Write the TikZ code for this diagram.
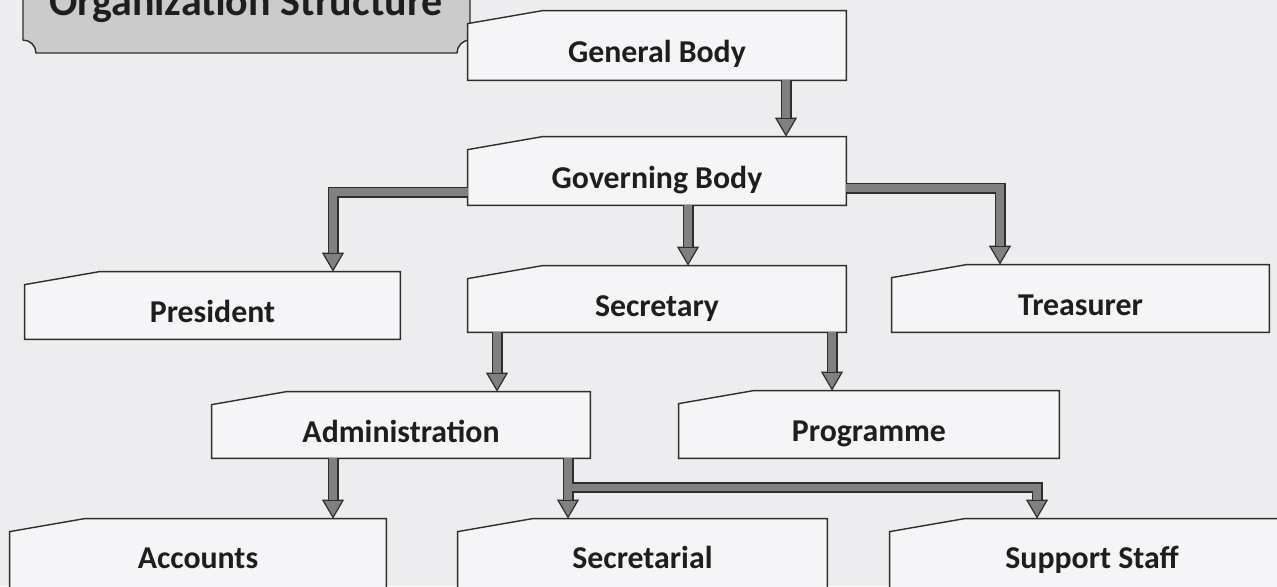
\documentclass[tikz,border=0pt]{standalone}
\usepackage{fontspec}
\setmainfont{Carlito}
\usetikzlibrary{arrows.meta,calc}
\pgfdeclarelayer{bg}
\pgfsetlayers{bg,main}
\definecolor{paper}{HTML}{EDECEE}
\definecolor{boxfill}{HTML}{F5F4F6}
\definecolor{edge}{HTML}{2E2E2E}
\definecolor{agray}{HTML}{808080}
\definecolor{tgray}{HTML}{CBCBCB}
\definecolor{txt}{HTML}{1E1E1E}
\tikzset{
  orgbox/.style={draw=none, inner sep=0pt, text=txt,
    font=\bfseries\fontsize{15.9}{18}\selectfont, text height=17pt, text depth=0pt},
  lowbox/.style={orgbox, text height=8.5pt},
  boxline/.style={draw=edge, line width=0.7pt, fill=boxfill, line join=miter},
  arrin/.style={-, draw=agray, line width=3.9pt, shorten >=9.5pt, line join=miter},
  arrout/.style={draw=edge, line width=5.5pt, line join=miter,
    -{Triangle[length=9.5pt,width=11pt,line width=0.6pt,fill=agray]}},
  arrow/.style={arrout, postaction={arrin}},
  titlebox/.style={draw=edge, line width=0.7pt, fill=tgray}
}
\newcommand\slantbox[1]{%
  \begin{pgfonlayer}{bg}
  \path[boxline] (#1.south west) -- (#1.south east) -- (#1.north east)
    -- ([xshift=37.5pt]#1.north west) -- ([yshift=-6.5pt]#1.north west) -- cycle;
  \end{pgfonlayer}}
\begin{document}
\begin{tikzpicture}[x=0.5pt,y=-0.5pt]
\useasboundingbox (0,0) rectangle (1277,586);
\begin{pgfonlayer}{bg}
\fill[paper] (0,0) rectangle (1277,586);
\path[titlebox] (23,-10) -- (23,40) .. controls (30.2,40) and (36,45.8) .. (36,53)
  -- (457,53) .. controls (457,45.8) and (462.8,40) .. (470,40) -- (470,-10);
\end{pgfonlayer}
\node[anchor=base, text=txt, font=\bfseries\fontsize{21}{24}\selectfont] (title) at (246,15) {Organization Structure};

\node[orgbox, minimum width=189pt, minimum height=34.5pt] (gb) at (657,45.5) {General Body};
\node[orgbox, minimum width=189pt, minimum height=34pt] (gov) at (657,171) {Governing Body};
\node[orgbox, minimum width=187.5pt, minimum height=33.5pt] (pres) at (212.5,305.5) {President};
\node[orgbox, minimum width=189pt, minimum height=33pt] (sec) at (657,299) {Secretary};
\node[orgbox, minimum width=188.5pt, minimum height=33.5pt] (tre) at (1080.5,298.5) {Treasurer};
\node[orgbox, minimum width=189pt, minimum height=33pt] (adm) at (401,425) {Administration};
\node[orgbox, minimum width=190pt, minimum height=33.5pt] (prog) at (869,424.5) {Programme};
\node[lowbox, minimum width=188pt, minimum height=40.5pt] (acc) at (198,559.5) {Accounts};
\node[lowbox, minimum width=184.5pt, minimum height=40.5pt] (secl) at (642.5,559.5) {Secretarial};
\node[lowbox, minimum width=202pt, minimum height=40.5pt] (sup) at (1092,559.5) {Support Staff};

\foreach \n in {gb,gov,pres,sec,tre,adm,prog,acc,secl,sup} {\slantbox{\n}}

\draw[arrow] ([xshift=64.5pt]gb.south) coordinate (g1) -- (g1 |- gov.north);
\draw[arrow] ([yshift=-10.5pt]gov.west) -| ([xshift=60.25pt]pres.north);
\draw[arrow] ([xshift=15.5pt]gov.south) coordinate (g2) -- (g2 |- sec.north);
\draw[arrow] ([yshift=-8.5pt]gov.east) -| ([xshift=-40.25pt]tre.north);
\draw[arrow] ([xshift=-80pt]sec.south) coordinate (s1) -- (s1 |- adm.north);
\draw[arrow] ([xshift=87.5pt]sec.south) coordinate (s2) -- (s2 |- prog.north);
\draw[arrow] ([xshift=-34pt]adm.south) coordinate (a1) -- (a1 |- acc.north);
\coordinate (a2) at ([xshift=83.5pt]adm.south);
\draw[arrout] (a2) -- (a2 |- secl.north);
\draw[arrout] (a2) -- ++(0,-14.5pt) -| ([xshift=-27.5pt]sup.north);
\draw[arrin] (a2) -- ++(0,-14.5pt) -| ([xshift=-27.5pt]sup.north);
\draw[arrin] (a2) -- (a2 |- secl.north);
\end{tikzpicture}
\end{document}
